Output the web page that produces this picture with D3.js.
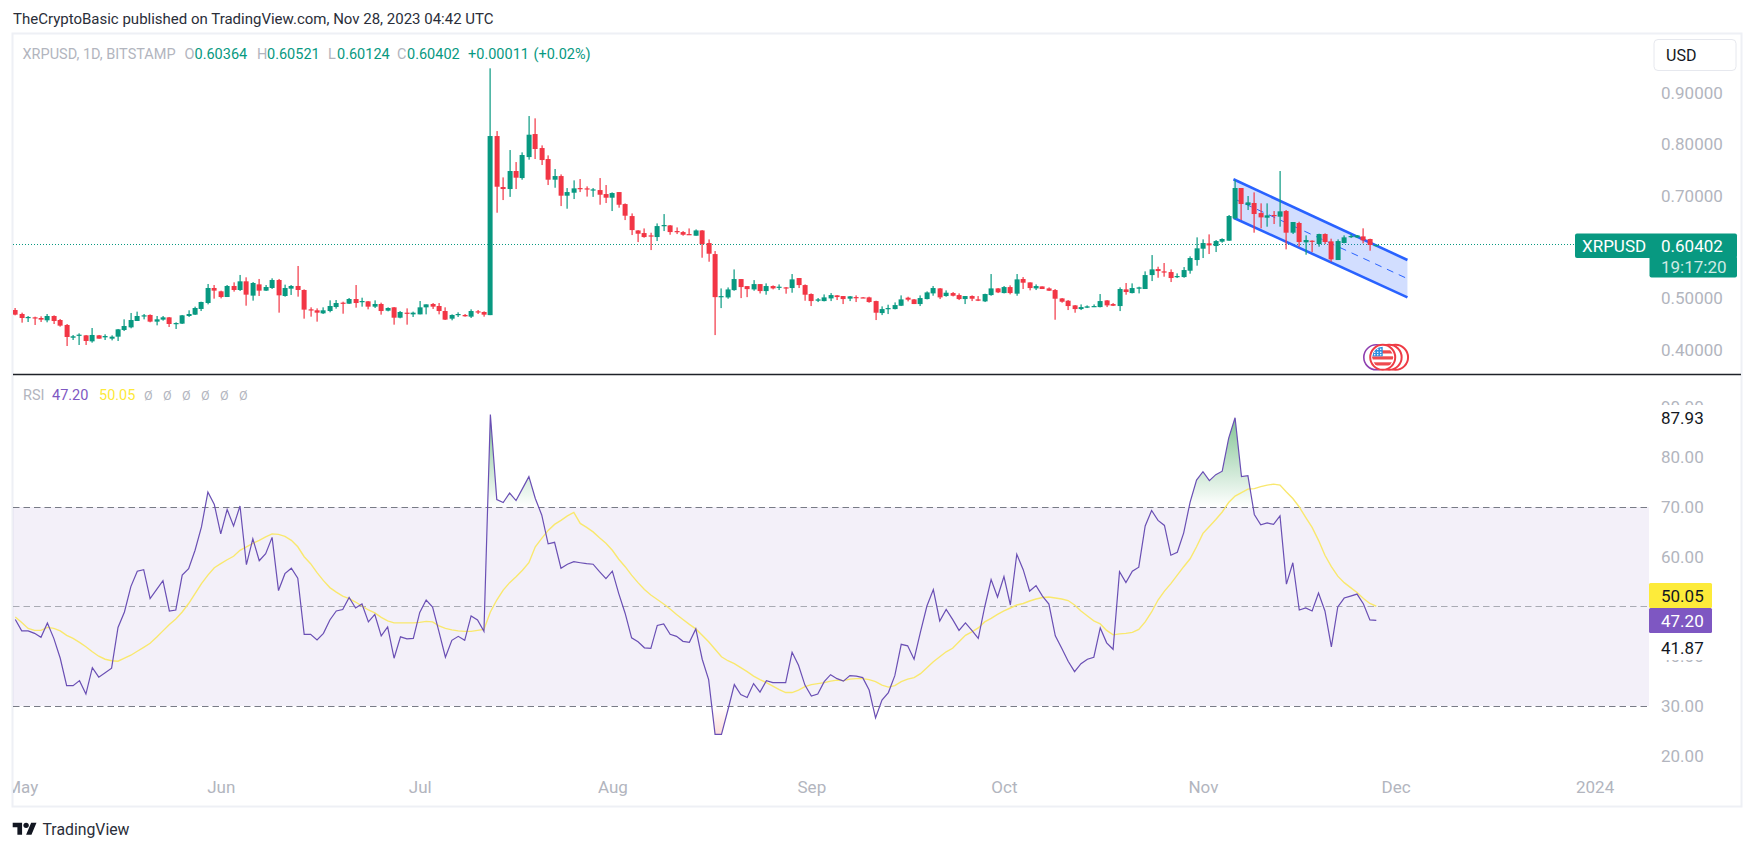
<!DOCTYPE html>
<html><head><meta charset="utf-8">
<style>html,body{margin:0;padding:0;background:#fff;overflow:hidden}svg{display:block}text{font-family:Roboto,"Noto Sans",sans-serif}</style>
<script src="https://cdn.jsdelivr.net/npm/d3@7"></script>
</head><body><svg id="c" width="1754" height="851"></svg>
<script>
const opens=[.4772,.4694,.4622,.4629,.4616,.4571,.4655,.4577,.4480,.4232,.4278,.4278,.4161,.4278,.4239,.4213,.4252,.4382,.4434,.4558,.4655,.4675,.4545,.4584,.4629,.4506,.4506,.4655,.4681,.4792,.4908,.5201,.5136,.5025,.5240,.5162,.5331,.5052,.5272,.5149,.5201,.5357,.5045,.5188,.5240,.5162,.4785,.4766,.4707,.4752,.4830,.4915,.4895,.4986,.4928,.4941,.4837,.4889,.4759,.4824,.4622,.4720,.4687,.4687,.4824,.4889,.4850,.4752,.4603,.4681,.4675,.4642,.4746,.4733,.4672,.8163,.7169,.7130,.7481,.7344,.7753,.8202,.7929,.7715,.7312,.7383,.7000,.7058,.7149,.7143,.7110,.7110,.7032,.6961,.7071,.6837,.6603,.6323,.6272,.6226,.6194,.6415,.6421,.6311,.6291,.6252,.6220,.6323,.6077,.5862,.5030,.5017,.5160,.5375,.5238,.5173,.5277,.5141,.5239,.5206,.5213,.5200,.5395,.5258,.5083,.4953,.4946,.4998,.5057,.5044,.4993,.5024,.5018,.5018,.4946,.4712,.4790,.4790,.4855,.5012,.4979,.4888,.4985,.5096,.5193,.5044,.5102,.5063,.4985,.5044,.4979,.4940,.5063,.5193,.5102,.5219,.5090,.5376,.5310,.5193,.5232,.5193,.5161,.4998,.4953,.4862,.4790,.4817,.4829,.4829,.4959,.4888,.4849,.5174,.5102,.5187,.5181,.5453,.5570,.5525,.5512,.5414,.5414,.5538,.5746,.5967,.6071,.6019,.6104,.6123,.6559,.7150,.6818,.6858,.6662,.6571,.6624,.6591,.6701,.6279,.6468,.6091,.6123,.6058,.6253,.6110,.5746,.6078,.6195,.6188,.6207,.6155,.60364];
const highs=[.4811,.4720,.4655,.4642,.4649,.4694,.4668,.4597,.4499,.4285,.4317,.4285,.4421,.4285,.4298,.4278,.4402,.4590,.4714,.4740,.4694,.4687,.4655,.4655,.4636,.4532,.4675,.4766,.4837,.4934,.5279,.5259,.5149,.5259,.5311,.5455,.5409,.5318,.5377,.5259,.5390,.5377,.5266,.5259,.5630,.5175,.4824,.4804,.4824,.4960,.4967,.4934,.5006,.5259,.5012,.4947,.4960,.4915,.4824,.4830,.4752,.4804,.4740,.4947,.4882,.4908,.4908,.4824,.4687,.4727,.4694,.4785,.4772,.4746,.9483,.8260,.7357,.7890,.7656,.7845,.8553,.8508,.7981,.7786,.7520,.7415,.7149,.7299,.7325,.7182,.7149,.7344,.7208,.7065,.7071,.6850,.6655,.6330,.6362,.6278,.6460,.6642,.6428,.6382,.6311,.6362,.6343,.6330,.6148,.5921,.5193,.5212,.5563,.5375,.5238,.5355,.5277,.5291,.5252,.5271,.5219,.5473,.5395,.5271,.5096,.5005,.5076,.5102,.5063,.5044,.5044,.5057,.5024,.5031,.4953,.4843,.4875,.4920,.5057,.5031,.4986,.5057,.5135,.5239,.5200,.5155,.5122,.5096,.5044,.5057,.5044,.5090,.5473,.5200,.5239,.5252,.5473,.5414,.5310,.5271,.5232,.5213,.5181,.5005,.4966,.4869,.4881,.4862,.4881,.5083,.4966,.4907,.5213,.5298,.5291,.5226,.5525,.5843,.5616,.5688,.5564,.5486,.5609,.5818,.6188,.6149,.6246,.6136,.6169,.6624,.7306,.7150,.6994,.7065,.6851,.6851,.6701,.7481,.6721,.6487,.6493,.6227,.6129,.6259,.6266,.6162,.6149,.6227,.6253,.6234,.6364,.6162,.60521];
const lows=[.4668,.4525,.4538,.4480,.4538,.4532,.4499,.4447,.4070,.4187,.4090,.4090,.4135,.4213,.4187,.4180,.4168,.4362,.4415,.4558,.4590,.4532,.4473,.4564,.4441,.4402,.4499,.4636,.4675,.4752,.4882,.4993,.4999,.5025,.5130,.5143,.4856,.4954,.5045,.5143,.5182,.4720,.5032,.5065,.5032,.4603,.4642,.4545,.4694,.4727,.4798,.4700,.4889,.4817,.4837,.4785,.4811,.4681,.4746,.4486,.4610,.4486,.4636,.4687,.4687,.4792,.4687,.4577,.4571,.4636,.4642,.4616,.4694,.4642,.4672,.6668,.6915,.6977,.7130,.7312,.7702,.7715,.7598,.7208,.7155,.6798,.6746,.6935,.7071,.6983,.6977,.6824,.6857,.6701,.6766,.6525,.6233,.6096,.6181,.5940,.6116,.6311,.6239,.6252,.6220,.6239,.6220,.5791,.5713,.4283,.4809,.4991,.5147,.5004,.5023,.5147,.5095,.5070,.5174,.5161,.5090,.5109,.5200,.4953,.4849,.4927,.4940,.4946,.4966,.4888,.4946,.4927,.5005,.4914,.4576,.4673,.4693,.4784,.4849,.4940,.4888,.4849,.4979,.5050,.4985,.5031,.5037,.4966,.4888,.4946,.4946,.4927,.5050,.5102,.5096,.5077,.5050,.5181,.5155,.5161,.5181,.5142,.4582,.4914,.4771,.4719,.4771,.4810,.4829,.4823,.4829,.4849,.4751,.5070,.5096,.5096,.5181,.5336,.5401,.5421,.5317,.5395,.5401,.5480,.5636,.5785,.5863,.5902,.6084,.6123,.6539,.6526,.6721,.6279,.6364,.6396,.6448,.6396,.5954,.6253,.6006,.5850,.5902,.6006,.6058,.5713,.5746,.6071,.6175,.6175,.6071,.5928,.60124];
const closes=[.4681,.4616,.4636,.4616,.4584,.4655,.4558,.4467,.4246,.4259,.4291,.4168,.4285,.4213,.4265,.4252,.4395,.4460,.4577,.4655,.4668,.4545,.4590,.4629,.4499,.4518,.4668,.4694,.4811,.4928,.5201,.5149,.5025,.5240,.5162,.5331,.5071,.5298,.5149,.5220,.5357,.5058,.5201,.5240,.5162,.4779,.4779,.4720,.4766,.4850,.4908,.4908,.4986,.4908,.4947,.4837,.4889,.4752,.4811,.4622,.4733,.4714,.4720,.4824,.4882,.4837,.4752,.4584,.4675,.4694,.4649,.4752,.4727,.4681,.8163,.7175,.7130,.7481,.7351,.7793,.8189,.7910,.7695,.7312,.7383,.7000,.7071,.7143,.7136,.7130,.7123,.7019,.6961,.7052,.6824,.6610,.6330,.6259,.6194,.6213,.6408,.6428,.6291,.6291,.6239,.6239,.6323,.6057,.5869,.5023,.5043,.5173,.5375,.5219,.5179,.5277,.5141,.5239,.5193,.5226,.5206,.5369,.5258,.5070,.4946,.4979,.5018,.5063,.5024,.4985,.5038,.5011,.5011,.4927,.4719,.4790,.4810,.4868,.4979,.4973,.4888,.5005,.5115,.5200,.5018,.5109,.5050,.4985,.5044,.4992,.4953,.5083,.5193,.5115,.5219,.5102,.5369,.5304,.5200,.5239,.5181,.5148,.4992,.4933,.4849,.4790,.4829,.4843,.4849,.4946,.4862,.4855,.5181,.5122,.5200,.5213,.5453,.5564,.5531,.5518,.5395,.5434,.5551,.5785,.5974,.6077,.6032,.6116,.6156,.6604,.7150,.6838,.6870,.6643,.6578,.6617,.6611,.6695,.6279,.6487,.6097,.6136,.6110,.6253,.6097,.5759,.6116,.6188,.6214,.6227,.6129,.6039,.60402];
const rsiValues=[47.4,45.1,45.1,44.6,43.8,46.7,43.6,39.6,34.1,34.1,35.1,32.4,37.7,35.8,36.7,37.6,45.8,48.9,54.0,57.1,57.4,51.6,53.4,55.2,49.1,49.3,56.3,57.6,61.3,66.0,73.0,70.5,64.6,69.5,66.2,70.2,58.4,63.6,59.2,60.6,63.9,53.2,56.6,57.7,55.7,44.4,44.4,43.3,44.6,47.3,49.1,49.4,51.8,49.7,50.5,46.9,48.4,44.1,45.9,39.6,43.9,43.5,43.6,48.8,51.3,49.9,44.9,39.8,43.2,44.0,43.2,48.1,47.3,45.0,88.6,71.5,70.9,72.8,71.3,73.7,76.1,71.7,68.4,62.6,62.9,57.7,58.5,59.0,58.8,58.6,58.5,57.0,55.6,57.1,52.6,48.6,43.7,42.9,41.7,41.6,46.2,46.5,44.4,44.0,43.0,42.8,45.5,39.4,35.3,24.3,24.3,29.2,34.3,32.3,31.7,34.5,32.8,35.1,34.7,34.7,34.7,40.8,38.2,34.2,32.0,32.4,34.9,36.3,35.5,35.0,36.1,36.0,35.7,33.2,27.6,31.2,32.7,36.1,42.4,42.1,39.4,44.9,50.1,53.4,47.1,49.4,47.4,45.2,46.7,45.2,43.6,49.9,55.4,51.9,56.0,50.3,60.5,57.4,53.1,54.2,52.1,50.5,44.1,41.6,39.0,36.9,38.5,39.4,39.8,45.7,42.7,41.4,57.0,54.8,57.1,57.9,66.2,69.3,67.3,66.3,60.3,60.9,64.8,71.0,75.4,77.1,75.3,76.5,77.2,83.8,87.93,76.1,76.3,68.5,66.4,66.8,66.5,68.2,54.5,58.8,49.3,49.7,49.1,52.7,49.1,41.9,49.9,51.7,52.1,52.5,50.5,47.3,47.2];
const rsiMaValues=[47.9,46.8,45.6,45.2,45.2,45.8,45.6,45.1,44.2,43.6,42.8,41.9,40.9,40.0,39.4,39.1,39.0,39.6,40.2,41.0,41.8,42.6,43.8,45.1,46.4,47.5,48.9,50.6,52.6,54.6,56.3,57.8,58.6,59.4,60.1,61.3,62.0,62.7,63.3,64.0,64.6,64.5,64.1,63.3,62.0,60.0,58.6,56.8,55.2,53.8,52.9,52.1,51.6,50.9,50.1,49.3,48.7,47.8,47.1,46.7,46.7,46.7,46.7,46.8,47.0,46.9,46.1,45.6,45.3,45.1,45.0,45.0,45.2,45.4,48.9,51.3,53.3,54.8,56.0,57.3,58.8,62.0,63.7,65.3,66.5,67.3,68.2,68.9,66.7,65.9,65.0,63.8,62.7,61.3,59.5,58.0,56.3,54.8,53.4,52.3,51.4,50.5,49.5,48.4,47.4,46.4,45.5,44.2,42.9,41.4,39.9,39.1,38.5,37.7,36.9,36.0,35.3,34.7,34.0,33.3,32.7,32.7,33.2,33.9,34.3,34.5,34.7,35.0,35.2,35.1,35.4,35.5,35.5,35.3,34.9,34.2,33.8,34.1,34.9,35.4,35.7,36.5,37.7,38.9,39.9,40.9,41.6,42.9,44.2,44.9,45.7,46.9,47.6,48.4,49.1,49.7,50.3,50.6,51.1,51.5,51.8,51.9,51.7,51.5,51.2,50.3,49.1,48.1,47.1,46.5,45.2,44.3,44.5,44.6,44.8,45.4,46.9,48.9,51.3,53.1,54.6,56.3,58.0,59.6,62.0,64.7,66.1,67.5,69.0,70.9,72.2,72.9,73.6,73.7,74.1,74.4,74.6,74.4,73.0,71.7,70.0,67.9,65.9,63.3,60.3,58.0,56.1,54.8,53.8,52.8,51.6,50.6,50.05];
const monthBars=[1,32,63,93,124,154,185,215,246];
const monthLabels=["May","Jun","Jul","Aug","Sep","Oct","Nov","Dec","2024"];
const priceTicks=[.4,.5,.7,.8,.9];
const rsiTicks=[20,30,40,60,70,80,90];
const rsiLevels=[70,50,30];
const channelBars=[189.75,216.85];
const channelUpper=[.7320,.5747];
const channelLower=[.6571,.5019];
const eventBars=[215,214,213];
const lastPrice=.60402;

const GREEN="#089981",RED="#F23645",GREY="#b2b5be",PURPLE="#6a4fb4",YEL="#f9e86e";
const svg=d3.select("#c");
const x=d3.scaleLinear().domain([0,212]).range([15.3,1376.3]);
const yP=d3.scaleLinear().domain([.4,.9]).range([349.6,93.1]);
const yR=d3.scaleLinear().domain([30,70]).range([706,507]);
const crisp=v=>Math.floor(v)+.5;
const L=13,R=1649;
const defs=svg.append("defs");
defs.append("clipPath").attr("id","pane").append("rect").attr("x",L).attr("y",34).attr("width",R-L).attr("height",772);
defs.append("clipPath").attr("id","axisT").append("rect").attr("x",L).attr("y",760).attr("width",1730).attr("height",46);
defs.append("clipPath").attr("id","over").append("rect").attr("x",L).attr("y",376).attr("width",R-L).attr("height",yR(70)-376);
defs.append("clipPath").attr("id","under").append("rect").attr("x",L).attr("y",yR(30)).attr("width",R-L).attr("height",60);
const gu=defs.append("linearGradient").attr("id","gUp").attr("gradientUnits","userSpaceOnUse").attr("x1",0).attr("x2",0).attr("y1",yR(88)).attr("y2",yR(70));
gu.append("stop").attr("offset",0).attr("stop-color","#3fa45b").attr("stop-opacity",.65);
gu.append("stop").attr("offset",1).attr("stop-color","#3fa45b").attr("stop-opacity",0);
const gd=defs.append("linearGradient").attr("id","gDn").attr("gradientUnits","userSpaceOnUse").attr("x1",0).attr("x2",0).attr("y1",yR(30)).attr("y2",yR(24));
gd.append("stop").attr("offset",0).attr("stop-color","#f2594b").attr("stop-opacity",0);
gd.append("stop").attr("offset",1).attr("stop-color","#f2594b").attr("stop-opacity",.22);

// header + frame
svg.append("text").attr("x",13).attr("y",24).attr("font-size",15).attr("fill","#2a2e39").text("TheCryptoBasic published on TradingView.com, Nov 28, 2023 04:42 UTC");
svg.append("rect").attr("x",12.5).attr("y",33.5).attr("width",1729).attr("height",773).attr("fill","#fff").attr("stroke","#eef0f5").attr("stroke-width",2);

// price pane
const pane=svg.append("g").attr("clip-path","url(#pane)");
pane.append("line").attr("x1",L).attr("x2",1576).attr("y1",crisp(yP(lastPrice))).attr("y2",crisp(yP(lastPrice))).attr("stroke",GREEN).attr("stroke-dasharray","1 2");
const chPts=(a,b)=>[[channelBars[0],a[0]],[channelBars[1],a[1]],[channelBars[1],b[1]],[channelBars[0],b[0]]];
pane.append("path").attr("d",d3.line().x(d=>x(d[0])).y(d=>yP(d[1]))(chPts(channelUpper,channelLower))+"Z").attr("fill","#2962FF").attr("fill-opacity",.21);
const chLine=d3.line().x((d,i)=>x(channelBars[i])).y(d=>yP(d));
pane.append("path").attr("d",chLine(channelUpper)).attr("stroke","#2962FF").attr("stroke-width",2.6).attr("fill","none");
pane.append("path").attr("d",chLine(channelLower)).attr("stroke","#2962FF").attr("stroke-width",2.6).attr("fill","none");
pane.append("path").attr("d",chLine(channelUpper.map((v,i)=>(v+channelLower[i])/2))).attr("stroke","#2962FF").attr("stroke-width",1).attr("stroke-dasharray","7 6").attr("fill","none");
const candles=pane.append("g").selectAll("g").data(d3.range(opens.length)).join("g")
  .attr("fill",i=>closes[i]>=opens[i]?GREEN:RED);
candles.append("rect").attr("x",i=>Math.round(x(i))-.5+0).attr("width",1.2).attr("y",i=>yP(highs[i])).attr("height",i=>yP(lows[i])-yP(highs[i]));
candles.append("rect").attr("x",i=>Math.round(x(i))-2.4).attr("width",5)
  .attr("y",i=>yP(Math.max(opens[i],closes[i])))
  .attr("height",i=>Math.max(1.2,Math.abs(yP(opens[i])-yP(closes[i]))));

// event markers
const evY=357.3;
svg.append("circle").attr("cx",x(212)).attr("cy",evY).attr("r",12.5).attr("fill","#fff").attr("stroke","#8e3fb0").attr("stroke-width",1.6);
svg.append("g").selectAll("circle").data(eventBars).join("circle").attr("cx",d=>x(d)).attr("cy",evY).attr("r",12.5).attr("fill","#fff").attr("stroke","#ee3b45").attr("stroke-width",2);
const fx=x(213);
defs.append("clipPath").attr("id","flag").append("circle").attr("cx",fx).attr("cy",evY).attr("r",10.5);
const flag=svg.append("g").attr("clip-path","url(#flag)");
flag.append("rect").attr("x",fx-11).attr("y",evY-11).attr("width",22).attr("height",22).attr("fill","#fff");
[-7,-1,5].forEach(o=>flag.append("rect").attr("x",fx-11).attr("y",evY+o).attr("width",22).attr("height",3.2).attr("fill","#ef4a4f"));
flag.append("rect").attr("x",fx-11).attr("y",evY-11).attr("width",11).attr("height",10).attr("fill","#2f8fe0");
[-8,-5,-2].forEach(dx=>[-8,-5,-2.5].forEach(dy=>flag.append("circle").attr("cx",fx+dx).attr("cy",evY+dy).attr("r",.8).attr("fill","#fff")));

// separator
svg.append("line").attr("x1",L).attr("x2",1741).attr("y1",374.5).attr("y2",374.5).attr("stroke","#1f2228").attr("stroke-width",1.3);

// RSI pane
const rp=svg.append("g").attr("clip-path","url(#pane)");
rp.append("rect").attr("x",L).attr("width",R-L).attr("y",yR(70)).attr("height",yR(30)-yR(70)).attr("fill","#7E57C2").attr("fill-opacity",.09);
rp.append("g").selectAll("line").data(rsiLevels).join("line").attr("x1",L).attr("x2",R).attr("y1",d=>crisp(yR(d))).attr("y2",d=>crisp(yR(d)))
  .attr("stroke",d=>d===50?"#a9abb4":"#787b86").attr("stroke-dasharray","6.5 4");
const aUp=d3.area().x((d,i)=>x(i)).y0(yR(70)).y1(d=>yR(d));
const aDn=d3.area().x((d,i)=>x(i)).y0(yR(30)).y1(d=>yR(d));
rp.append("g").attr("clip-path","url(#over)").append("path").attr("d",aUp(rsiValues)).attr("fill","url(#gUp)");
rp.append("g").attr("clip-path","url(#under)").append("path").attr("d",aDn(rsiValues)).attr("fill","url(#gDn)");
const ln=d3.line().x((d,i)=>x(i)).y(d=>yR(d));
rp.append("path").attr("d",ln(rsiMaValues)).attr("fill","none").attr("stroke",YEL).attr("stroke-width",1.4);
rp.append("path").attr("d",ln(rsiValues)).attr("fill","none").attr("stroke",PURPLE).attr("stroke-width",1.2);

// axes
const axPrice=svg.append("g").attr("transform","translate(1661,0)").call(d3.axisRight(yP).tickValues(priceTicks).tickFormat(d3.format(".5f")).tickSize(0).tickPadding(0));
const axRsi=svg.append("g").attr("transform","translate(1661,0)").call(d3.axisRight(yR).tickValues(rsiTicks).tickFormat(d3.format(".2f")).tickSize(0).tickPadding(0));
const axTime=svg.append("g").attr("clip-path","url(#axisT)").append("g").attr("transform","translate(0,781)").call(d3.axisBottom(x).tickValues(monthBars).tickFormat((d,i)=>monthLabels[i]).tickSize(0).tickPadding(0));
[axPrice,axRsi,axTime].forEach(a=>{a.select(".domain").remove();a.selectAll("text").attr("font-size",17).attr("fill",GREY).attr("font-family","Roboto");});

// RSI labels
svg.append("rect").attr("x",1650).attr("y",405).attr("width",62).attr("height",25).attr("fill","#fff");
svg.append("text").attr("x",1661).attr("y",yR(87.93)+5.8).attr("font-size",17).attr("fill","#131722").text("87.93");
svg.append("rect").attr("x",1650).attr("y",633).attr("width",62).attr("height",27).attr("fill","#fff");
svg.append("text").attr("x",1661).attr("y",654.3).attr("font-size",17).attr("fill","#131722").text("41.87");
svg.append("rect").attr("x",1649).attr("y",583).attr("width",63).attr("height",25).attr("fill","#FDEB3A").attr("rx",1.5);
svg.append("text").attr("x",1661).attr("y",601.5).attr("font-size",17).attr("fill","#131722").text("50.05");
svg.append("rect").attr("x",1649).attr("y",608).attr("width",63).attr("height",25).attr("fill","#7E57C2").attr("rx",1.5);
svg.append("text").attr("x",1661).attr("y",626.5).attr("font-size",17).attr("fill","#fff").text("47.20");

// last price tag
svg.append("rect").attr("x",1575).attr("y",233.5).attr("width",162).attr("height",24.5).attr("rx",2).attr("fill",GREEN);
svg.append("rect").attr("x",1649.5).attr("y",256).attr("width",87.5).attr("height",21.5).attr("rx",2).attr("fill",GREEN);
svg.append("text").attr("x",1582).attr("y",251.5).attr("font-size",17).attr("fill","#fff").text("XRPUSD");
svg.append("text").attr("x",1661).attr("y",251.5).attr("font-size",17).attr("fill","#fff").text("0.60402");
svg.append("text").attr("x",1661).attr("y",273).attr("font-size",17).attr("fill","#cfeae4").text("19:17:20");

// USD button
svg.append("rect").attr("x",1654).attr("y",39.5).attr("width",82).attr("height",31).attr("rx",4).attr("fill","#fff").attr("stroke","#e6e8ee");
svg.append("text").attr("x",1666).attr("y",60.7).attr("font-size",16).attr("fill","#131722").text("USD");

// legends
const leg=[["XRPUSD, 1D, BITSTAMP",22.5,GREY],["O",184.5,GREY],["0.60364",194.5,GREEN],["H",257,GREY],["0.60521",267,GREEN],["L",328,GREY],["0.60124",337,GREEN],["C",397,GREY],["0.60402",407,GREEN],["+0.00011",468,GREEN],["(+0.02%)",533.5,GREEN]];
svg.append("g").selectAll("text").data(leg).join("text").attr("x",d=>d[1]).attr("y",59).attr("font-size",14.5).attr("fill",d=>d[2]).text(d=>d[0]);
const leg2=[["RSI",23,GREY],["47.20",52,"#7E57C2"],["50.05",99,"#FDE93A"]];
svg.append("g").selectAll("text").data(leg2).join("text").attr("x",d=>d[1]).attr("y",400).attr("font-size",14.5).attr("fill",d=>d[2]).text(d=>d[0]);
svg.append("g").selectAll("text").data([144,163,182,201,220,239]).join("text").attr("x",d=>d).attr("y",400).attr("font-size",12.5).attr("fill",GREY).text("Ø");

// logo
const lg=svg.append("g").attr("transform","translate(12.7,820) scale(.67)").attr("fill","#131722");
lg.append("path").attr("d","M14 22H7V11H0V4h14v18zM28 22h-8l7.5-18h8L28 22z");
lg.append("circle").attr("cx",20).attr("cy",8).attr("r",4);
svg.append("text").attr("x",42.5).attr("y",835).attr("font-size",15.8).attr("font-family","Inter").attr("fill","#2a2e39").text("TradingView");
</script></body></html>
